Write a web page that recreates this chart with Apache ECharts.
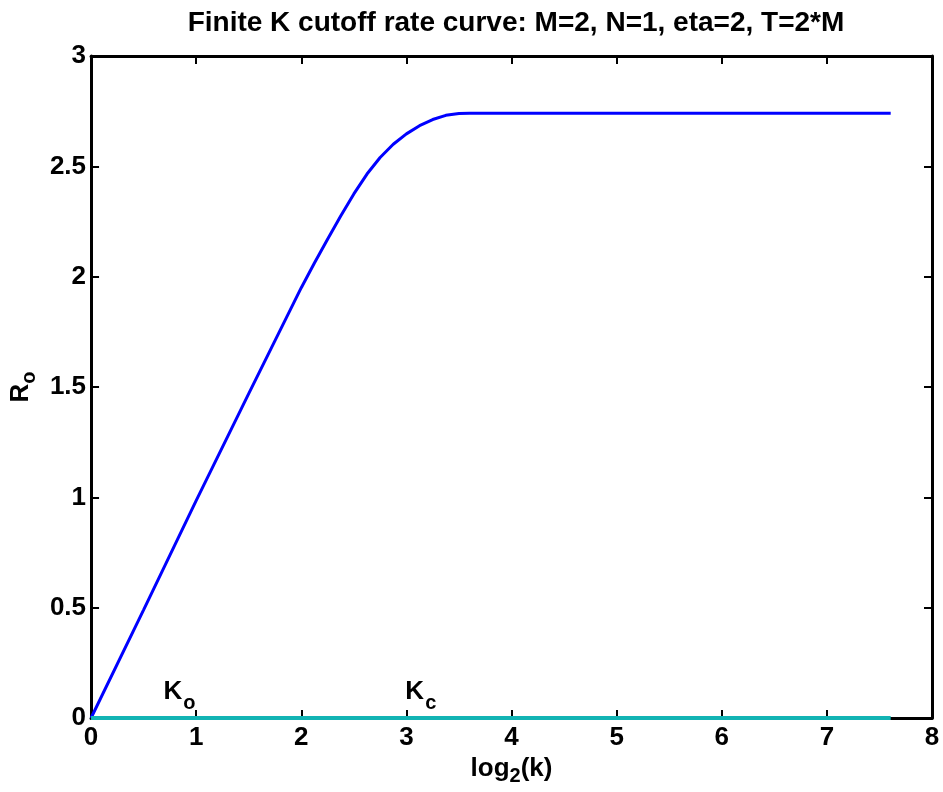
<!DOCTYPE html>
<html>
<head>
<meta charset="utf-8">
<script src="https://cdn.jsdelivr.net/npm/echarts@6/dist/echarts.min.js"></script>
<style>
  html, body { margin: 0; padding: 0; background: #fff; }
  #chart { width: 943px; height: 792px; }
</style>
</head>
<body>
<div id="chart"></div>
<script>
// Cutoff rate R_o versus log2(k)
const log2k = [0, 0.5, 1, 1.5, 1.75, 2, 2.125, 2.25, 2.375, 2.5, 2.625, 2.75, 2.875, 3, 3.125, 3.25, 3.375, 3.5, 3.6, 4, 5, 6, 7, 7.607];
const rateRo = [0, 0.49, 0.985, 1.47, 1.71, 1.95, 2.062, 2.17, 2.275, 2.375, 2.465, 2.54, 2.6, 2.647, 2.684, 2.712, 2.731, 2.739, 2.741, 2.741, 2.741, 2.741, 2.741, 2.741];

// Zero baseline drawn across the same k range
const baseX = [0, 7.607];
const baseY = [0, 0];

// Annotation labels: [log2(k), R_o, main letter, subscript]
const notes = [
  [0.69, 0.12, 'K', 'o'],
  [2.99, 0.12, 'K', 'c']
];

const xTicks = { min: 0, max: 8, interval: 1 };
const yTicks = { min: 0, max: 3, interval: 0.5 };

const FONT = 'Liberation Sans';
const chart = echarts.init(document.getElementById('chart'));

function frameAxis(extra) {
  return Object.assign({
    axisLine: { show: true, onZero: false, lineStyle: { color: '#000', width: 3 } },
    axisTick: { show: true, inside: true, length: 8, lineStyle: { color: '#000', width: 2 } },
    splitLine: { show: false }
  }, extra);
}

const mainText = { fontFamily: FONT, fontWeight: 'bold', fontSize: 26, color: '#000' };
const subText = { fontFamily: FONT, fontWeight: 'bold', fontSize: 20, color: '#000', padding: [16, 0, 0, 0] };
const noteSub = { fontFamily: FONT, fontWeight: 'bold', fontSize: 20, color: '#000', padding: [24, 0, 0, 1] };

chart.setOption({
  animation: false,
  backgroundColor: '#fff',
  title: {
    text: 'Finite K cutoff rate curve: M=2, N=1, eta=2, T=2*M',
    left: 511,
    textAlign: 'center',
    top: 4,
    textStyle: { fontFamily: FONT, fontWeight: 'bold', fontSize: 28, color: '#000' }
  },
  grid: { left: 90, right: 11, top: 56, bottom: 74, containLabel: false },
  xAxis: [
    frameAxis({
      type: 'value', position: 'bottom',
      min: xTicks.min, max: xTicks.max, interval: xTicks.interval,
      name: '{a|log}{b|2}{a|(k)}',
      nameLocation: 'middle',
      nameGap: 29,
      nameTextStyle: { rich: { a: mainText, b: subText } },
      axisLabel: { show: true, margin: 7, fontFamily: FONT, fontWeight: 'bold', fontSize: 26, color: '#000' }
    }),
    frameAxis({
      type: 'value', position: 'top',
      min: xTicks.min, max: xTicks.max, interval: xTicks.interval,
      axisLabel: { show: false }
    })
  ],
  yAxis: [
    frameAxis({
      type: 'value', position: 'left',
      min: yTicks.min, max: yTicks.max, interval: yTicks.interval,
      name: '{a|R}{b|o}',
      nameLocation: 'middle',
      nameRotate: 90,
      nameGap: 38,
      nameTextStyle: { rich: { a: mainText, b: subText } },
      axisLabel: { show: true, margin: 5, fontFamily: FONT, fontWeight: 'bold', fontSize: 26, color: '#000' }
    }),
    frameAxis({
      type: 'value', position: 'right',
      min: yTicks.min, max: yTicks.max, interval: yTicks.interval,
      axisLabel: { show: false }
    })
  ],
  series: [
    {
      type: 'line',
      data: log2k.map((x, i) => [x, rateRo[i]]),
      showSymbol: false,
      symbol: 'none',
      smooth: false,
      clip: false,
      lineStyle: { color: '#0000ff', width: 3 },
      z: 5
    },
    {
      type: 'line',
      data: baseX.map((x, i) => [x, baseY[i]]),
      showSymbol: false,
      symbol: 'none',
      clip: false,
      lineStyle: { color: '#12b4b4', width: 4 },
      z: 6
    },
    {
      type: 'scatter',
      data: notes.map(n => ({ value: [n[0], n[1]], main: n[2], sub: n[3] })),
      symbolSize: 0,
      silent: true,
      itemStyle: { opacity: 1 },
      label: {
        show: true,
        position: 'right',
        distance: 0,
        color: '#000',
        opacity: 1,
        formatter: p => '{k|' + p.data.main + '}{s|' + p.data.sub + '}',
        rich: { k: mainText, s: noteSub }
      },
      z: 7
    }
  ]
});
</script>
</body>
</html>
